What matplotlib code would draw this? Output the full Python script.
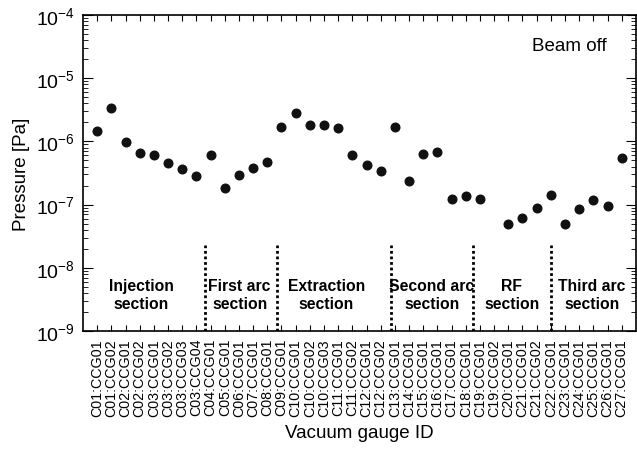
import numpy as np
import matplotlib.pyplot as plt

plt.rcParams['font.family'] = ['Liberation Sans', 'DejaVu Sans']
plt.rcParams['mathtext.fontset'] = 'custom'
plt.rcParams['mathtext.rm'] = 'Liberation Sans'
plt.rcParams['mathtext.it'] = 'Liberation Sans:italic'
plt.rcParams['mathtext.bf'] = 'Liberation Sans:bold'

# gauge IDs along the ring
gauges = ['C01:CCG01', 'C01:CCG02', 'C02:CCG01', 'C02:CCG02', 'C03:CCG01',
          'C03:CCG02', 'C03:CCG03', 'C03:CCG04', 'C04:CCG01', 'C05:CCG01',
          'C06:CCG01', 'C07:CCG01', 'C08:CCG01', 'C09:CCG01', 'C10:CCG01',
          'C10:CCG02', 'C10:CCG03', 'C11:CCG01', 'C11:CCG02', 'C12:CCG01',
          'C12:CCG02', 'C13:CCG01', 'C14:CCG01', 'C15:CCG01', 'C16:CCG01',
          'C17:CCG01', 'C18:CCG01', 'C19:CCG01', 'C19:CCG02', 'C20:CCG01',
          'C21:CCG01', 'C21:CCG02', 'C22:CCG01', 'C23:CCG01', 'C24:CCG01',
          'C25:CCG01', 'C26:CCG01', 'C27:CCG01']

# pressure [Pa], beam off (C19:CCG02 has no reading)
pressure = [1.45e-6, 3.4e-6, 9.7e-7, 6.5e-7, 6.2e-7,
            4.6e-7, 3.6e-7, 2.8e-7, 6.2e-7, 1.8e-7,
            2.9e-7, 3.8e-7, 4.8e-7, 1.7e-6, 2.8e-6,
            1.85e-6, 1.85e-6, 1.65e-6, 6.0e-7, 4.2e-7,
            3.4e-7, 1.7e-6, 2.4e-7, 6.3e-7, 6.8e-7,
            1.23e-7, 1.35e-7, 1.23e-7, np.nan, 5.0e-8,
            6.1e-8, 9.0e-8, 1.43e-7, 5.0e-8, 8.5e-8,
            1.18e-7, 9.6e-8, 5.5e-7]

sections = ['Injection\nsection', 'First arc\nsection', 'Extraction\nsection',
            'Second arc\nsection', 'RF\nsection', 'Third arc\nsection']
section_x = [3.1, 10.05, 16.15, 23.6, 29.25, 34.9]
boundaries = [7.6, 12.7, 20.7, 26.5, 32.0]

x = np.arange(len(gauges))

fig = plt.figure(figsize=(6.37, 4.52), dpi=100)
ax = fig.add_axes([0.1303, 0.2655, 0.868, 0.699])

ax.plot(x, pressure, 'o', color='#111111', markersize=6.2, zorder=3)

ax.set_yscale('log')
ax.set_ylim(1e-9, 1e-4)
ax.set_xlim(-1, 38)

ax.set_xticks(x)
ax.set_xticklabels(gauges, rotation=90, fontsize=10.3)
ax.tick_params(axis='x', direction='in', top=True, bottom=True, length=4, pad=5)
ax.tick_params(axis='y', which='major', direction='in', left=True, right=True,
               length=7, labelsize=14, pad=6)
ax.tick_params(axis='y', which='minor', direction='in', left=True, right=True,
               length=3.5)

for b in boundaries:
    ax.axvline(b, ymin=0, ymax=0.272, color='black', linestyle=(0, (1, 1)),
               linewidth=2.0)

for label, sx in zip(sections, section_x):
    ax.text(sx, 0.114, label, transform=ax.get_xaxis_transform(),
            ha='center', va='center', fontsize=11.3, fontweight='bold',
            linespacing=1.25)

ax.text(0.948, 0.903, 'Beam off', transform=ax.transAxes, ha='right',
        va='center', fontsize=13.5)

for s in ax.spines.values():
    s.set_linewidth(1.2)

ax.set_ylabel('Pressure [Pa]', fontsize=13.5, labelpad=4)
ax.set_xlabel('Vacuum gauge ID', fontsize=13.5, labelpad=6)

fig.savefig('out.png', dpi=100)
